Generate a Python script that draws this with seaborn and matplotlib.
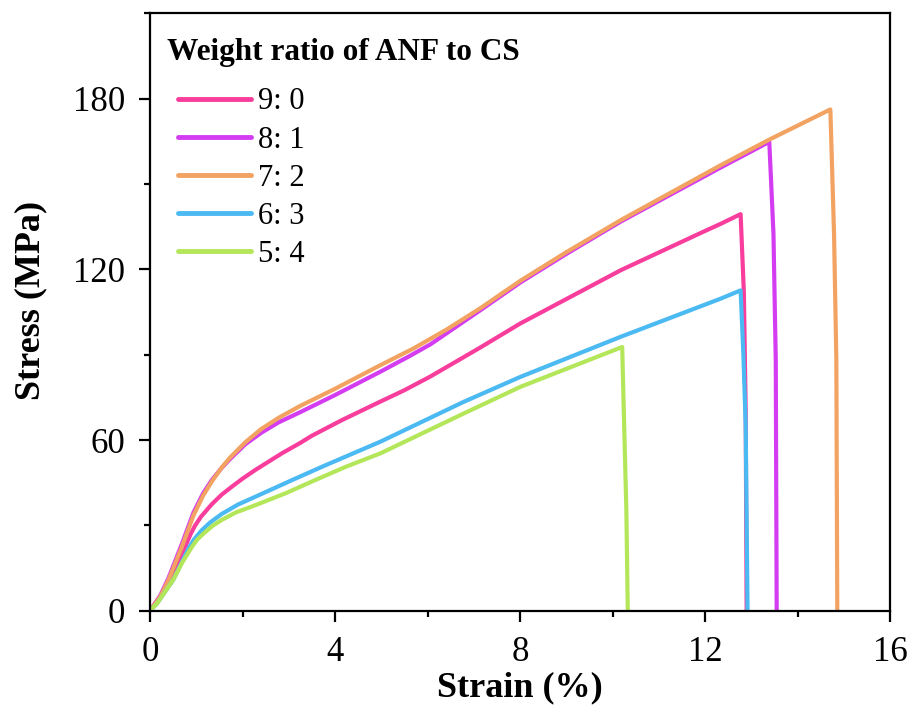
import numpy as np
import pandas as pd
import matplotlib
matplotlib.use("Agg")
import matplotlib.pyplot as plt
from matplotlib.ticker import MultipleLocator
import seaborn as sns

# ---- data ----
labels = ["9: 0", "8: 1", "7: 2", "6: 3", "5: 4"]
colors = ["#F83D9D", "#D43CF2", "#F2A261", "#4BB9F2", "#B4E65A"]

strain_90 = [0, 0.22, 0.42, 0.62, 0.76, 0.88, 0.97, 1.10, 1.34, 1.55, 1.77, 2.00, 2.27,
             2.85, 3.25, 3.50, 4.15, 4.98, 5.50, 6.06, 7.14, 8.01, 10.18, 11.91, 12.34,
             12.77, 12.84, 12.88, 12.90]
stress_90 = [0, 4.9, 10.8, 17.5, 22.5, 27.0, 29.8, 33.0, 37.5, 40.8, 43.6, 46.4, 49.4,
             55.3, 59.0, 61.5, 67.0, 73.5, 77.5, 82.3, 92.5, 101.0, 119.7, 132.8, 136.0,
             139.4, 112.0, 70.0, 0]

strain_81 = [0, 0.22, 0.40, 0.69, 0.94, 1.15, 1.34, 1.55, 1.73, 2.06, 2.40, 2.78, 3.25,
             4.00, 4.98, 5.60, 6.06, 6.42, 7.14, 8.01, 9.00, 10.18, 12.34, 13.39, 13.48,
             13.53, 13.55]
stress_81 = [0, 5.3, 11.5, 23.5, 34.5, 41.3, 46.0, 50.2, 53.3, 58.5, 62.5, 66.2, 69.8,
             75.8, 84.0, 89.4, 93.6, 97.6, 105.6, 115.4, 125.4, 136.8, 155.8, 164.8, 132.6,
             88.0, 0]

strain_72 = [0, 0.22, 0.40, 0.69, 0.94, 1.15, 1.34, 1.55, 1.73, 2.06, 2.40, 2.78, 3.25,
             4.00, 4.98, 5.70, 6.42, 7.14, 8.01, 9.00, 10.18, 12.34, 13.39, 14.71, 14.79,
             14.84, 14.86]
stress_72 = [0, 4.9, 10.8, 22.5, 33.5, 40.5, 45.5, 50.3, 53.8, 59.2, 63.8, 67.8, 72.0,
             78.0, 86.3, 92.2, 98.9, 106.3, 116.0, 126.0, 137.3, 156.6, 165.6, 176.2, 132.6,
             88.0, 0]

strain_63 = [0, 0.15, 0.50, 0.70, 0.83, 0.95, 1.12, 1.30, 1.55, 1.90, 2.27, 3.07, 3.72,
             4.22, 4.98, 6.78, 8.01, 10.18, 12.34, 12.77, 12.83, 12.88, 12.92]
stress_63 = [0, 2.5, 10.8, 17.5, 21.8, 25.0, 28.3, 31.0, 34.0, 37.3, 40.0, 45.9, 50.6,
             54.1, 59.4, 73.4, 82.2, 96.3, 109.7, 112.6, 90.0, 65.0, 0]

strain_54 = [0, 0.15, 0.50, 0.70, 0.90, 1.02, 1.15, 1.35, 1.55, 1.85, 2.20, 2.92, 3.57,
             4.22, 4.98, 6.78, 8.01, 10.21, 10.24, 10.30, 10.33]
stress_54 = [0, 2.5, 10.8, 17.0, 22.3, 25.0, 27.0, 29.8, 31.9, 34.5, 36.6, 41.2, 45.9,
             50.5, 55.3, 69.3, 78.7, 92.7, 73.0, 35.0, 0]

x_ticks = [0, 4, 8, 12, 16]
y_ticks = [0, 60, 120, 180]

series = [(strain_90, stress_90), (strain_81, stress_81), (strain_72, stress_72),
          (strain_63, stress_63), (strain_54, stress_54)]

frames = []
for lab, (xs, ys) in zip(labels, series):
    d = pd.DataFrame({"Strain": xs, "Stress": ys})
    d["Ratio"] = lab
    frames.append(d)
df = pd.concat(frames, ignore_index=True)

# ---- style ----
sns.set_style("ticks")
plt.rcParams["font.family"] = ["Liberation Serif", "DejaVu Serif"]
plt.rcParams["axes.linewidth"] = 1.6
plt.rcParams["text.color"] = "black"
plt.rcParams["axes.labelcolor"] = "black"
plt.rcParams["xtick.color"] = "black"
plt.rcParams["ytick.color"] = "black"

fig = plt.figure(figsize=(9.13, 7.07), dpi=100)
ax = fig.add_axes([150 / 913, 1 - 610.7 / 707, 740 / 913, (610.7 - 13.3) / 707])

sns.lineplot(data=df, x="Strain", y="Stress", hue="Ratio", hue_order=labels,
             palette=colors, sort=False, estimator=None, units="Ratio",
             linewidth=3.0, ax=ax, legend=True)

ax.set_xlim(0, 16)
ax.set_ylim(0, 210)
ax.set_xticks(x_ticks)
ax.set_yticks(y_ticks)
ax.xaxis.set_minor_locator(MultipleLocator(2))
ax.yaxis.set_minor_locator(MultipleLocator(30))
ax.tick_params(which="major", direction="out", length=8, width=1.6,
               labelsize=25, pad=10, color="black", labelcolor="black")
ax.tick_params(which="minor", direction="out", length=4.5, width=1.6, color="black")
for sp in ax.spines.values():
    sp.set_visible(True)
    sp.set_color("black")
    sp.set_linewidth(1.6)

ax.set_xlabel("Strain (%)", fontsize=26, fontweight="bold", labelpad=2, color="black")
ax.set_ylabel("Stress (MPa)", fontsize=26, fontweight="bold", color="black")
ax.yaxis.set_label_coords(-0.139, 0.52)

# legend
handles, _ = ax.get_legend_handles_labels()
leg = ax.legend(handles=handles, labels=labels, loc="upper left",
                bbox_to_anchor=(0.038, 0.876), frameon=False, fontsize=22,
                handlelength=2.4, handletextpad=0.22, labelspacing=0.30,
                borderpad=0, borderaxespad=0, labelcolor="black")
for line in leg.get_lines():
    line.set_linewidth(3.5)
    line.set_solid_capstyle("round")
ax.text(0.023, 0.9218, "Weight ratio of ANF to CS", transform=ax.transAxes,
        fontsize=22.5, fontweight="bold", ha="left", va="baseline", color="black")

fig.savefig("out.png", dpi=100)
